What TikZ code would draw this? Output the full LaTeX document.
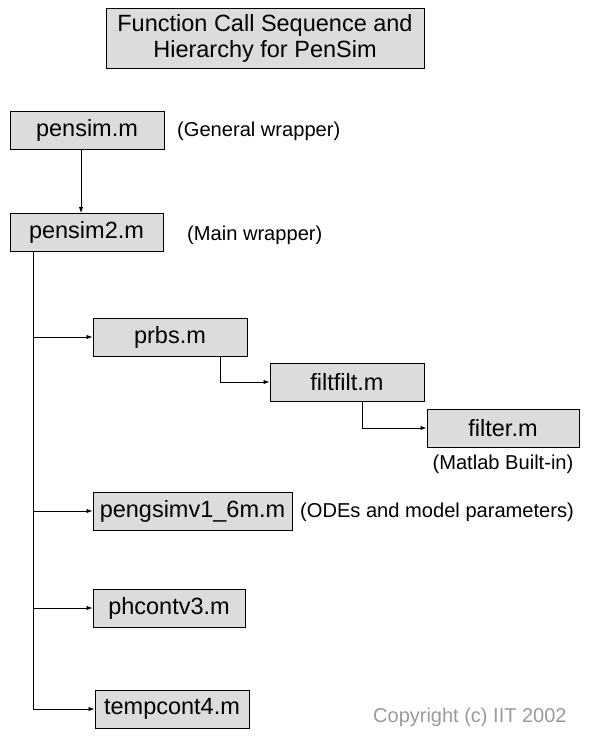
\documentclass[tikz,border=0pt]{standalone}
\usepackage{fontspec}
\setmainfont{Liberation Sans}
\usetikzlibrary{positioning,arrows.meta}
\definecolor{boxgray}{HTML}{DCDCDC}
\definecolor{copygray}{HTML}{9A9A9A}

\tikzset{
  filebox/.style={draw=black, fill=boxgray, line width=1pt, inner sep=0pt,
        minimum height=38pt, font=\fontsize{23.5}{27}\selectfont},
  note/.style={font=\fontsize{20.1}{23}\selectfont, inner sep=0pt},
  arr/.style={line width=0.9pt, -{Latex[length=6pt,width=4.5pt]}},
  trunkline/.style={line width=0.9pt}
}

\begin{document}
\begin{tikzpicture}[x=1pt, y=1pt]
  \useasboundingbox (0,0) rectangle (595,-739);

  % Title
  \node[filebox, align=center, minimum width=318pt, minimum height=60pt,
        font=\fontsize{23.5}{26}\selectfont]
        (title) at (265,-38) {Function Call Sequence and\\Hierarchy for PenSim};

  % Wrappers
  \node[filebox, minimum width=154pt] (pensim)  at (87,-130.5)  {pensim.m};
  \node[filebox, minimum width=153pt] (pensimtwo) at (86.5,-232.5) {pensim2.m};
  \node[note, anchor=west] (generalnote) at (177,-131) {(General wrapper)};
  \node[note, anchor=west] (mainnote)    at (187,-235) {(Main wrapper)};

  % Called functions
  \node[filebox, minimum width=154pt] (prbs)     at (170,-337)   {prbs.m};
  \node[filebox, minimum width=154pt] (filtfilt) at (347,-382)   {filtfilt.m};
  \node[filebox, minimum width=152pt] (filter)   at (503,-428)   {filter.m};
  \node[filebox, minimum width=199pt] (pengsim)  at (192.5,-511) {pengsimv1\_6m.m};
  \node[filebox, minimum width=152pt] (phcont)   at (169,-608)   {phcontv3.m};
  \node[filebox, minimum width=154pt] (tempcont) at (172,-709)   {tempcont4.m};

  % Notes
  \node[note] (builtinnote) at (503,-464) {(Matlab Built-in)};
  \node[note, anchor=west] (odenote) at (300,-512) {(ODEs and model parameters)};
  \node[note, anchor=west, text=copygray, font=\fontsize{20}{23}\selectfont]
        (copyright) at (373,-717) {Copyright (c) IIT 2002};

  % Connectors
  \draw[arr] ([xshift=-6pt]pensim.south) -- ([xshift=-6pt]pensim.south |- pensimtwo.north);
  \coordinate (trunktop) at ([xshift=-53.5pt]pensimtwo.south);
  \draw[trunkline] (trunktop) -- (trunktop |- tempcont.west);
  \foreach \f in {prbs,pengsim,phcont,tempcont}
    \draw[arr] (trunktop |- \f.west) -- (\f.west);
  \draw[arr] ([xshift=50pt]prbs.south) |- (filtfilt.west);
  \draw[arr] ([xshift=15pt]filtfilt.south) |- (filter.west);
\end{tikzpicture}
\end{document}
